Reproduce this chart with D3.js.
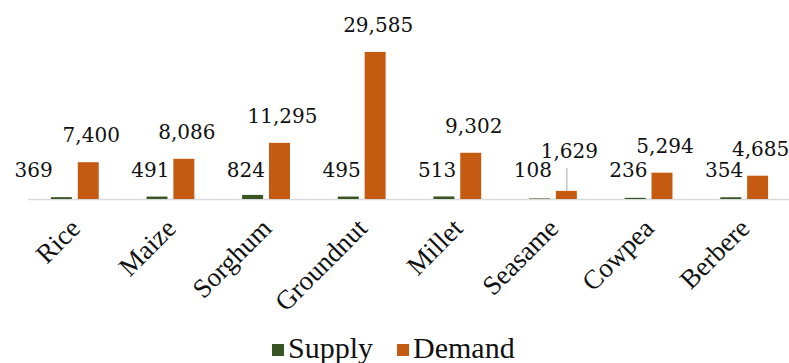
<!DOCTYPE html>
<html>
<head>
<meta charset="utf-8">
<script src="https://cdn.jsdelivr.net/npm/d3@7"></script>
<style>
  html, body { margin: 0; padding: 0; background: #fff; }
  svg { display: block; }
</style>
</head>
<body>
<svg id="chart" width="789" height="363"></svg>
<script>
// Crop supply vs demand (values as labelled on each bar)
const crops = ["Rice", "Maize", "Sorghum", "Groundnut", "Millet", "Seasame", "Cowpea", "Berbere"];
const supply = [369, 491, 824, 495, 513, 108, 236, 354];
const demand = [7400, 8086, 11295, 29585, 9302, 1629, 5294, 4685];
const seriesNames = ["Supply", "Demand"];
const seriesColors = ["#375623", "#C55A11"];

const W = 789, H = 363;
const baseY = 199, topY = 25;
const numFont = "'DejaVu Serif', serif";
const catFont = "'Liberation Serif', 'Times New Roman', serif";

const svg = d3.select("#chart");

const x0 = d3.scaleBand().domain(crops).range([27, 792]).paddingInner(0.5).paddingOuter(0.25);
const x1 = d3.scaleBand().domain(seriesNames).range([0, x0.bandwidth()]).paddingInner(0.22);
const y = d3.scaleLinear().domain([0, 35000]).range([baseY, topY]);
const color = d3.scaleOrdinal().domain(seriesNames).range(seriesColors);

const rows = crops.map((c, i) => ({ crop: c, Supply: supply[i], Demand: demand[i] }));

// baseline (category axis)
const xAxis = d3.axisBottom(x0).tickSize(0).tickFormat("");
const axisG = svg.append("g").attr("transform", `translate(0,${baseY})`).call(xAxis);
axisG.select(".domain").attr("stroke", "#d9d9d9").attr("stroke-width", 1.5)
  .attr("d", `M28,0.5H789`);

// bars
const groups = svg.append("g").selectAll("g").data(rows).join("g")
  .attr("transform", d => `translate(${x0(d.crop)},0)`);

groups.selectAll("rect").data(d => seriesNames.map(s => ({ s, v: d[s] }))).join("rect")
  .attr("x", d => x1(d.s))
  .attr("width", x1.bandwidth())
  .attr("y", d => y(d.v))
  .attr("height", d => baseY - y(d.v))
  .attr("fill", d => color(d.s));

const fmt = d3.format(",");
const bw = x1.bandwidth();

// demand labels above bars; short bars get a lifted label with a leader line
const demandMaxBaseline = 158;
rows.forEach(d => {
  const cx = x0(d.crop) + x1("Demand") + bw / 2;
  const top = y(d.Demand);
  const by = Math.min(top - 20, demandMaxBaseline);
  svg.append("text")
    .attr("x", cx + 3).attr("y", by)
    .attr("text-anchor", "middle")
    .attr("font-family", numFont).attr("font-size", 20).attr("fill", "#111")
    .text(fmt(d.Demand));
  if (top - by > 28) {
    svg.append("line")
      .attr("x1", cx + 0.5).attr("x2", cx + 0.5)
      .attr("y1", by + 10).attr("y2", top)
      .attr("stroke", "#a6a6a6").attr("stroke-width", 1);
  }
});

// supply labels sit just left of the demand bar
const supplyShift = { Rice: -21 };
rows.forEach(d => {
  const ex = x0(d.crop) + x1("Demand") - 4 + (supplyShift[d.crop] || 0);
  svg.append("text")
    .attr("x", ex).attr("y", 177)
    .attr("text-anchor", "end")
    .attr("font-family", numFont).attr("font-size", 20).attr("fill", "#111")
    .text(fmt(d.Supply));
});

// rotated category labels
rows.forEach(d => {
  const cx = x0(d.crop) + x0.bandwidth() / 2;
  svg.append("text")
    .attr("transform", `translate(${cx + 7},${230}) rotate(-45)`)
    .attr("text-anchor", "end")
    .attr("font-family", catFont).attr("font-size", 27).attr("fill", "#111")
    .text(d.crop);
});

// legend
const legend = svg.append("g").attr("transform", "translate(272,350)");
let lx = 0;
seriesNames.forEach((s, i) => {
  const g = legend.append("g").attr("transform", `translate(${lx},0)`);
  g.append("rect").attr("x", 0).attr("y", -6).attr("width", 12).attr("height", 12).attr("fill", color(s));
  const t = g.append("text").attr("x", 16).attr("y", 8)
    .attr("font-family", catFont).attr("font-size", 30).attr("fill", "#111").text(s);
  lx += 16 + t.node().getComputedTextLength() + 24;
});
</script>
</body>
</html>
